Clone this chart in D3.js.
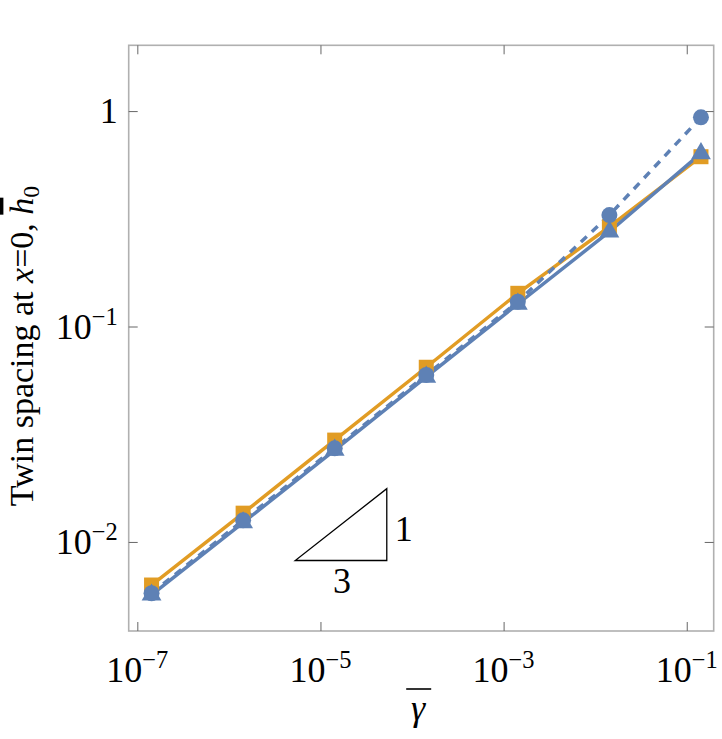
<!DOCTYPE html>
<html>
<head>
<meta charset="utf-8">
<script src="https://cdn.jsdelivr.net/npm/d3@7"></script>
<style>
  body { margin: 0; background: #fff; }
  svg text { font-family: "Liberation Serif", serif; }
</style>
</head>
<body>
<div id="chart"></div>
<script>
// data
const gammaBar = [1.43e-7, 1.43e-6, 1.43e-5, 1.43e-4, 1.43e-3, 1.43e-2, 0.143];
const hSquares = [0.00631, 0.0136, 0.0297, 0.0647, 0.1426, 0.2905, 0.614];
const hTriangles = [0.00568, 0.0123, 0.0267, 0.0583, 0.1272, 0.2754, 0.636];
const hCircles = [0.00578, 0.0126, 0.0272, 0.0596, 0.1303, 0.329, 0.935];
const xTicks = [1e-7, 1e-5, 1e-3, 1e-1];
const xTickExp = ["\u22127", "\u22125", "\u22123", "\u22121"];
const yTicks = [1, 0.1, 0.01];
const yTickExp = [null, "\u22121", "\u22122"];
// slope triangle corners (x0, x1) and (y0, y1)
const slopeX = [5.3e-6, 5.3e-5];
const slopeY = [0.0082, 0.01767];

const width = 722;
const height = 739;
const margin = { top: 45.3, right: 8.3, bottom: 108, left: 128.7 };
const serif = "Liberation Serif";

const blue = "#5E81B5";
const orange = "#E19C24";

const svg = d3.select("#chart")
              .append("svg")
              .attr("width", width)
              .attr("height", height)
              .attr("font-family", serif);

const x = d3.scaleLog()
            .domain([8.05e-8, 0.197])
            .range([margin.left, width - margin.right]);

const y = d3.scaleLog()
            .domain([0.00386, 2.02])
            .range([height - margin.bottom, margin.top]);

const x0 = margin.left, x1 = width - margin.right;
const y0 = height - margin.bottom, y1 = margin.top;

// frame
svg.append("rect")
   .attr("x", x0).attr("y", y1)
   .attr("width", x1 - x0).attr("height", y0 - y1)
   .attr("fill", "none")
   .attr("stroke", "#b0b0b0")
   .attr("stroke-width", 1.6);

// ticks (inside, mirrored on all four sides)
const tickLen = 9;
const tickColor = "#666";

svg.append("g")
   .attr("transform", `translate(0, ${y0})`)
   .call(d3.axisBottom(x).tickValues(xTicks).tickSizeInner(-tickLen).tickSizeOuter(0).tickFormat(""))
   .call(g => g.select(".domain").remove())
   .call(g => g.selectAll("line").attr("stroke", tickColor));

svg.append("g")
   .attr("transform", `translate(0, ${y1})`)
   .call(d3.axisTop(x).tickValues(xTicks).tickSizeInner(-tickLen).tickSizeOuter(0).tickFormat(""))
   .call(g => g.select(".domain").remove())
   .call(g => g.selectAll("line").attr("stroke", tickColor));

svg.append("g")
   .attr("transform", `translate(${x0}, 0)`)
   .call(d3.axisLeft(y).tickValues(yTicks).tickSizeInner(-tickLen).tickSizeOuter(0).tickFormat(""))
   .call(g => g.select(".domain").remove())
   .call(g => g.selectAll("line").attr("stroke", tickColor));

svg.append("g")
   .attr("transform", `translate(${x1}, 0)`)
   .call(d3.axisRight(y).tickValues(yTicks).tickSizeInner(-tickLen).tickSizeOuter(0).tickFormat(""))
   .call(g => g.select(".domain").remove())
   .call(g => g.selectAll("line").attr("stroke", tickColor));

// tick labels with superscripts
const fs = 36;
const sup = 0.68;
xTicks.forEach((v, i) => {
  const t = svg.append("text")
     .attr("x", x(v))
     .attr("y", y0 + 51)
     .attr("font-family", serif)
     .attr("font-size", fs)
     .attr("text-anchor", "middle");
  t.append("tspan").text("10");
  t.append("tspan").attr("font-size", fs * sup).attr("dy", -14).text(xTickExp[i]);
});

yTicks.forEach((v, i) => {
  const t = svg.append("text")
     .attr("x", x0 - 11)
     .attr("y", y(v) + 12)
     .attr("font-family", serif)
     .attr("font-size", fs)
     .attr("text-anchor", "end");
  if (yTickExp[i] === null) {
    t.text("1");
  } else {
    t.append("tspan").text("10");
    t.append("tspan").attr("font-size", fs * sup).attr("dy", -14).text(yTickExp[i]);
  }
});

// axis labels
const xMid = (x0 + x1) / 2 - 3;
svg.append("text")
   .attr("x", xMid)
   .attr("y", y0 + 89)
   .attr("font-family", serif)
   .attr("font-size", fs)
   .attr("font-style", "italic")
   .attr("text-anchor", "middle")
   .text("\u03b3");

// bar over gamma
svg.append("line")
   .attr("x1", xMid - 12).attr("x2", xMid + 13)
   .attr("y1", y0 + 58).attr("y2", y0 + 58)
   .attr("stroke", "#000")
   .attr("stroke-width", 1.6);

const yl = svg.append("text")
   .attr("transform", `translate(33, ${346}) rotate(-90)`)
   .attr("font-family", serif)
   .attr("font-size", 34)
   .attr("text-anchor", "middle");
yl.append("tspan").text("Twin spacing at ");
yl.append("tspan").attr("font-style", "italic").text("x");
yl.append("tspan").text("=0, ");
yl.append("tspan").attr("font-style", "italic").style("text-decoration", "overline").text("h");
yl.append("tspan").attr("font-size", 34 * 0.7).attr("dy", 6).text("0");

// slope triangle
svg.append("path")
   .attr("d", `M${x(slopeX[0])},${y(slopeY[0])}L${x(slopeX[1])},${y(slopeY[0])}L${x(slopeX[1])},${y(slopeY[1])}Z`)
   .attr("fill", "none")
   .attr("stroke", "#000")
   .attr("stroke-width", 1.3);

svg.append("text")
   .attr("x", x(slopeX[1]) + 8)
   .attr("y", y(slopeY[0]) - 20)
   .attr("font-family", serif)
   .attr("font-size", fs)
   .text("1");

svg.append("text")
   .attr("x", x(Math.sqrt(slopeX[0] * slopeX[1])) + 1)
   .attr("y", y(slopeY[0]) + 32)
   .attr("font-family", serif)
   .attr("font-size", fs)
   .attr("text-anchor", "middle")
   .text("3");

// series
const line = d3.line()
               .x(d => x(d[0]))
               .y(d => y(d[1]));

const sq = gammaBar.map((g, i) => [g, hSquares[i]]);
const tr = gammaBar.map((g, i) => [g, hTriangles[i]]);
const ci = gammaBar.map((g, i) => [g, hCircles[i]]);

svg.append("path").datum(sq)
   .attr("d", line).attr("fill", "none")
   .attr("stroke", orange).attr("stroke-width", 3.5);

svg.append("path").datum(tr)
   .attr("d", line).attr("fill", "none")
   .attr("stroke", blue).attr("stroke-width", 3.5);

svg.append("path").datum(ci)
   .attr("d", line).attr("fill", "none")
   .attr("stroke", blue).attr("stroke-width", 3.5)
   .attr("stroke-dasharray", "8,7");

svg.selectAll(".sq").data(sq).enter()
   .append("rect").attr("class", "sq")
   .attr("x", d => x(d[0]) - 7.5).attr("y", d => y(d[1]) - 7.5)
   .attr("width", 15).attr("height", 15)
   .attr("fill", orange);

svg.selectAll(".tr").data(tr).enter()
   .append("path").attr("class", "tr")
   .attr("transform", d => `translate(${x(d[0])}, ${y(d[1])})`)
   .attr("d", d3.symbol(d3.symbolTriangle, 170))
   .attr("fill", blue);

svg.selectAll(".ci").data(ci).enter()
   .append("circle").attr("class", "ci")
   .attr("cx", d => x(d[0])).attr("cy", d => y(d[1]))
   .attr("r", 8)
   .attr("fill", blue);
</script>
</body>
</html>
